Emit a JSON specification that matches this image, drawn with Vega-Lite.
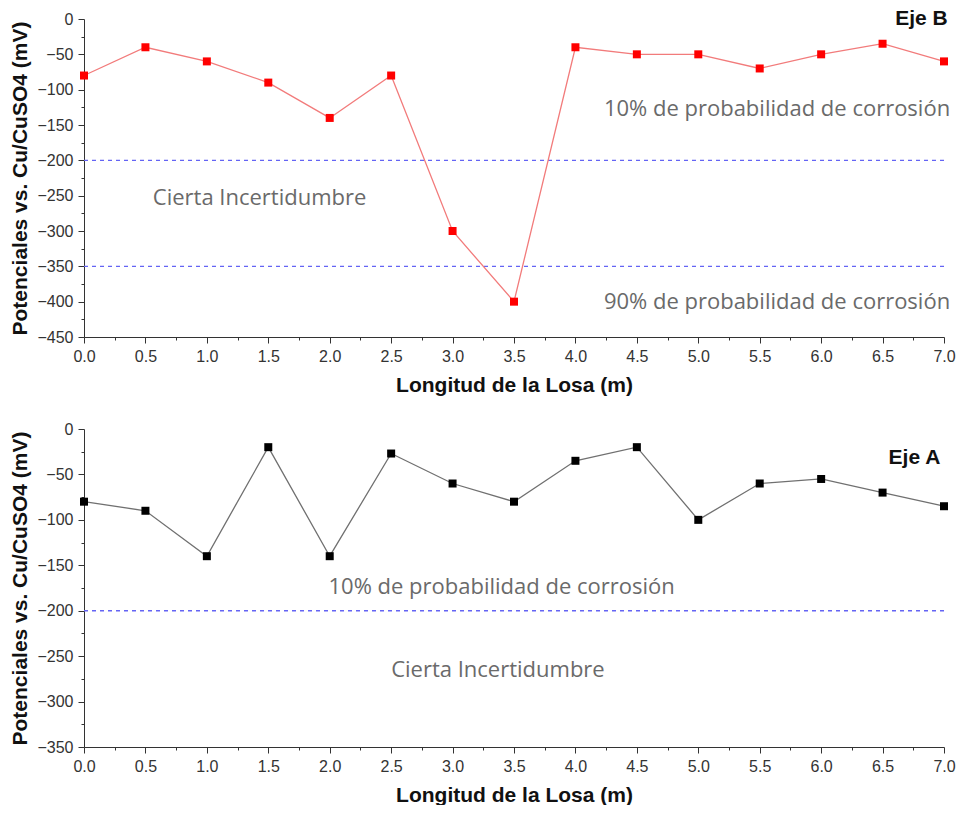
{
  "$schema": "https://vega.github.io/schema/vega-lite/v6.json",
  "padding": {"left": 9, "top": 8, "right": 0, "bottom": 0},
  "background": "white",
  "bounds": "flush",
  "spacing": 92,
  "config": {
    "view": {"stroke": null},
    "axis": {
      "grid": false,
      "labelFont": "Liberation Sans",
      "labelFontSize": 16,
      "labelColor": "#333",
      "tickColor": "#333",
      "domainColor": "#333",
      "titleFont": "Liberation Sans",
      "titleFontWeight": "bold",
      "titleColor": "#111",
      "labelFlush": false,
      "labelOverlap": false
    }
  },
  "datasets": {
    "ejeB": [
      {"x": 0.0, "v": -80}, {"x": 0.5, "v": -40}, {"x": 1.0, "v": -60}, {"x": 1.5, "v": -90},
      {"x": 2.0, "v": -140}, {"x": 2.5, "v": -80}, {"x": 3.0, "v": -300}, {"x": 3.5, "v": -400},
      {"x": 4.0, "v": -40}, {"x": 4.5, "v": -50}, {"x": 5.0, "v": -50}, {"x": 5.5, "v": -70},
      {"x": 6.0, "v": -50}, {"x": 6.5, "v": -35}, {"x": 7.0, "v": -60}
    ],
    "ejeA": [
      {"x": 0.0, "v": -80}, {"x": 0.5, "v": -90}, {"x": 1.0, "v": -140}, {"x": 1.5, "v": -20},
      {"x": 2.0, "v": -140}, {"x": 2.5, "v": -27}, {"x": 3.0, "v": -60}, {"x": 3.5, "v": -80},
      {"x": 4.0, "v": -35}, {"x": 4.5, "v": -20}, {"x": 5.0, "v": -100}, {"x": 5.5, "v": -60},
      {"x": 6.0, "v": -55}, {"x": 6.5, "v": -70}, {"x": 7.0, "v": -85}
    ],
    "limB": [{"y": -200}, {"y": -350}],
    "limA": [{"y": -200}],
    "notesBRight": [
      {"x": 7.05, "y": -128, "label": "10% de probabilidad de corrosión"},
      {"x": 7.05, "y": -400, "label": "90% de probabilidad de corrosión"}
    ],
    "notesBLeft": [
      {"x": 0.56, "y": -254, "label": "Cierta Incertidumbre"}
    ],
    "notesA": [
      {"x": 1.99, "y": -174, "label": "10% de probabilidad de corrosión"},
      {"x": 2.5, "y": -265, "label": "Cierta Incertidumbre"}
    ],
    "titleB": [{"x": 7.03, "y": 0, "label": "Eje B"}],
    "titleA": [{"x": 6.97, "y": -32, "label": "Eje A"}]
  },
  "vconcat": [
    {
      "width": 860,
      "height": 318,
      "resolve": {"axis": {"x": "independent", "y": "independent"}},
      "layer": [
        {
          "data": {"name": "limB"},
          "mark": {"type": "rule", "color": "#6464f4", "strokeDash": [4, 4], "strokeWidth": 1.4},
          "encoding": {"y": {"field": "y", "type": "quantitative", "axis": null}}
        },
        {
          "data": {"name": "ejeB"},
          "mark": {"type": "line", "color": "#f27b7b", "strokeWidth": 1.3,
                   "point": {"shape": "square", "filled": true, "color": "#ff0000", "size": 64, "opacity": 1}},
          "encoding": {
            "x": {"field": "x", "type": "quantitative", "scale": {"domain": [0, 7], "nice": false, "zero": false},
                  "axis": {"orient": "bottom", "values": [0, 0.5, 1, 1.5, 2, 2.5, 3, 3.5, 4, 4.5, 5, 5.5, 6, 6.5, 7], "format": ".1f",
                           "tickSize": 6, "labelPadding": 5, "title": "Longitud de la Losa (m)", "titleFontSize": 21, "titlePadding": 10}},
            "y": {"field": "v", "type": "quantitative", "scale": {"domain": [-450, 0], "nice": false, "zero": false},
                  "axis": {"orient": "left", "values": [0, -50, -100, -150, -200, -250, -300, -350, -400, -450], "format": "d",
                           "tickSize": 6, "labelPadding": 5, "title": "Potenciales vs. Cu/CuSO4 (mV)", "titleFontSize": 21, "titlePadding": 6}}
          }
        },
        {
          "data": {"name": "ejeB"},
          "mark": {"type": "point", "opacity": 0},
          "encoding": {
            "x": {"field": "x", "type": "quantitative",
                  "axis": {"orient": "bottom", "values": [0.25, 0.75, 1.25, 1.75, 2.25, 2.75, 3.25, 3.75, 4.25, 4.75, 5.25, 5.75, 6.25, 6.75],
                           "labels": false, "domain": false, "tickSize": 3, "title": null}},
            "y": {"field": "v", "type": "quantitative",
                  "axis": {"orient": "left", "values": [-25, -75, -125, -175, -225, -275, -325, -375, -425],
                           "labels": false, "domain": false, "tickSize": 3, "title": null}}
          }
        },
        {
          "data": {"name": "notesBRight"},
          "mark": {"type": "text", "font": "Open Sans", "fontSize": 22, "color": "#6a6a6a", "baseline": "middle", "align": "right"},
          "encoding": {
            "x": {"field": "x", "type": "quantitative", "axis": null},
            "y": {"field": "y", "type": "quantitative", "axis": null},
            "text": {"field": "label"}
          }
        },
        {
          "data": {"name": "notesBLeft"},
          "mark": {"type": "text", "font": "Open Sans", "fontSize": 22, "color": "#6a6a6a", "baseline": "middle", "align": "left"},
          "encoding": {
            "x": {"field": "x", "type": "quantitative", "axis": null},
            "y": {"field": "y", "type": "quantitative", "axis": null},
            "text": {"field": "label"}
          }
        },
        {
          "data": {"name": "titleB"},
          "mark": {"type": "text", "font": "Liberation Sans", "fontWeight": "bold", "fontSize": 21, "color": "#111", "align": "right", "baseline": "middle"},
          "encoding": {
            "x": {"field": "x", "type": "quantitative", "axis": null},
            "y": {"field": "y", "type": "quantitative", "axis": null},
            "text": {"field": "label"}
          }
        }
      ]
    },
    {
      "width": 860,
      "height": 318,
      "resolve": {"axis": {"x": "independent", "y": "independent"}},
      "layer": [
        {
          "data": {"name": "limA"},
          "mark": {"type": "rule", "color": "#6464f4", "strokeDash": [4, 4], "strokeWidth": 1.4},
          "encoding": {"y": {"field": "y", "type": "quantitative", "axis": null}}
        },
        {
          "data": {"name": "ejeA"},
          "mark": {"type": "line", "color": "#707070", "strokeWidth": 1.3,
                   "point": {"shape": "square", "filled": true, "color": "#000000", "size": 64, "opacity": 1}},
          "encoding": {
            "x": {"field": "x", "type": "quantitative", "scale": {"domain": [0, 7], "nice": false, "zero": false},
                  "axis": {"orient": "bottom", "values": [0, 0.5, 1, 1.5, 2, 2.5, 3, 3.5, 4, 4.5, 5, 5.5, 6, 6.5, 7], "format": ".1f",
                           "tickSize": 6, "labelPadding": 5, "title": "Longitud de la Losa (m)", "titleFontSize": 21, "titlePadding": 10}},
            "y": {"field": "v", "type": "quantitative", "scale": {"domain": [-350, 0], "nice": false, "zero": false},
                  "axis": {"orient": "left", "values": [0, -50, -100, -150, -200, -250, -300, -350], "format": "d",
                           "tickSize": 6, "labelPadding": 5, "title": "Potenciales vs. Cu/CuSO4 (mV)", "titleFontSize": 21, "titlePadding": 6}}
          }
        },
        {
          "data": {"name": "ejeA"},
          "mark": {"type": "point", "opacity": 0},
          "encoding": {
            "x": {"field": "x", "type": "quantitative",
                  "axis": {"orient": "bottom", "values": [0.25, 0.75, 1.25, 1.75, 2.25, 2.75, 3.25, 3.75, 4.25, 4.75, 5.25, 5.75, 6.25, 6.75],
                           "labels": false, "domain": false, "tickSize": 3, "title": null}},
            "y": {"field": "v", "type": "quantitative",
                  "axis": {"orient": "left", "values": [-25, -75, -125, -175, -225, -275, -325],
                           "labels": false, "domain": false, "tickSize": 3, "title": null}}
          }
        },
        {
          "data": {"name": "notesA"},
          "mark": {"type": "text", "font": "Open Sans", "fontSize": 22, "color": "#6a6a6a", "baseline": "middle", "align": "left"},
          "encoding": {
            "x": {"field": "x", "type": "quantitative", "axis": null},
            "y": {"field": "y", "type": "quantitative", "axis": null},
            "text": {"field": "label"}
          }
        },
        {
          "data": {"name": "titleA"},
          "mark": {"type": "text", "font": "Liberation Sans", "fontWeight": "bold", "fontSize": 21, "color": "#111", "align": "right", "baseline": "middle"},
          "encoding": {
            "x": {"field": "x", "type": "quantitative", "axis": null},
            "y": {"field": "y", "type": "quantitative", "axis": null},
            "text": {"field": "label"}
          }
        }
      ]
    }
  ]
}
